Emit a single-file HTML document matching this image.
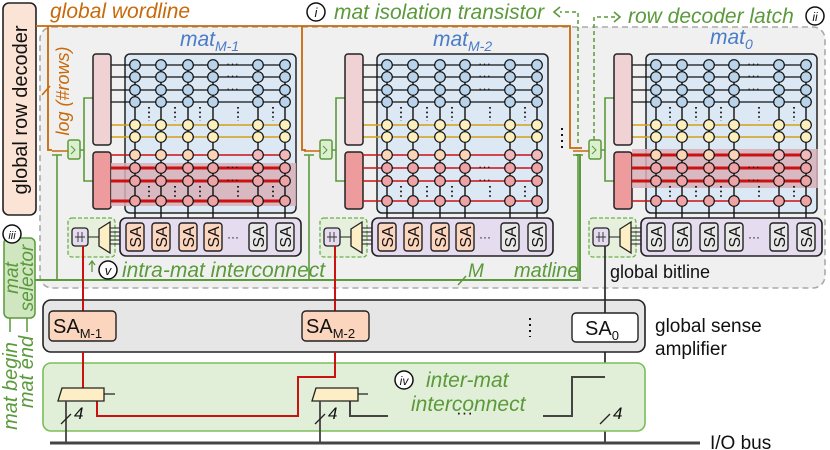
<!DOCTYPE html>
<html><head><meta charset="utf-8"><style>
html,body{margin:0;padding:0;background:#fff;}
svg{display:block;}
text{font-family:"Liberation Sans",sans-serif;}
.it{font-style:italic;}
.g{fill:#5a9a3a;}
</style></head><body>
<svg width="830" height="450" viewBox="0 0 830 450" xmlns="http://www.w3.org/2000/svg">
<defs>
<g id="matA">
  <rect x="125" y="54" width="171" height="159" rx="5" fill="#dce8f4" stroke="#222" stroke-width="1.5"/>
  <path d="M80,150 H84 M93,98 H84 V181 H93" fill="none" stroke="#5a9a3a" stroke-width="1.6"/>
  <rect x="68" y="140" width="12" height="19" rx="2" fill="#dcefd0" stroke="#5a9a3a" stroke-width="1.5"/>
  <path d="M71,146 l4,4 l-4,4" fill="none" stroke="#5a9a3a" stroke-width="1"/>
  <path d="M52,151 H62 M62,151 H68" fill="none" stroke="#c8690a" stroke-width="1.6"/>
  <path d="M52,155 H62 M57,155 V280" fill="none" stroke="#5a9a3a" stroke-width="1.6"/>
  <g stroke="#111" stroke-width="1.3">
    <line x1="111" y1="65" x2="290" y2="65"/><line x1="111" y1="77" x2="290" y2="77"/>
    <line x1="111" y1="90" x2="290" y2="90"/><line x1="111" y1="102" x2="290" y2="102"/>
  </g>
  <g stroke="#d4a017" stroke-width="1.6">
    <line x1="111" y1="125" x2="290" y2="125"/><line x1="111" y1="137" x2="290" y2="137"/>
  </g>
  <rect x="93" y="54" width="18" height="91" rx="3" fill="#f0d2d5" stroke="#222" stroke-width="1.5"/>
  <rect x="93" y="152" width="18" height="57" rx="3" fill="#ee9b9e" stroke="#222" stroke-width="1.5"/>
</g>
<g id="vl" stroke="#111" stroke-width="1.4">
  <line x1="135" y1="60" x2="135" y2="219"/><line x1="161" y1="60" x2="161" y2="219"/>
  <line x1="188" y1="60" x2="188" y2="219"/><line x1="213" y1="60" x2="213" y2="219"/>
  <line x1="258" y1="60" x2="258" y2="219"/><line x1="285" y1="60" x2="285" y2="219"/>
</g>
<g id="col" stroke="#111" stroke-width="1.2">
  <circle cy="65" r="5.3" fill="#b9d3ea"/><circle cy="77" r="5.3" fill="#b9d3ea"/>
  <circle cy="90" r="5.3" fill="#b9d3ea"/><circle cy="102" r="5.3" fill="#b9d3ea"/>
  <circle cy="125" r="5.3" fill="#fdf0bd"/><circle cy="137" r="5.3" fill="#fdf0bd"/>
  <circle cy="168" r="5.3" fill="#eea3a6"/><circle cy="181" r="5.3" fill="#eea3a6"/>
  <circle cy="201" r="5.3" fill="#eea3a6"/>
</g>
<g id="matB">
  <use href="#col" x="135"/><use href="#col" x="161"/><use href="#col" x="188"/><use href="#col" x="213"/>
  <use href="#col" x="258"/><use href="#col" x="285"/>
  <g stroke="#111" stroke-width="1.2">
    <circle cx="135" cy="155" r="5.3" fill="#fbd5b5"/><circle cx="161" cy="155" r="5.3" fill="#fbd5b5"/>
    <circle cx="188" cy="155" r="5.3" fill="#fbd5b5"/><circle cx="213" cy="155" r="5.3" fill="#fbd5b5"/>
    <circle cx="258" cy="155" r="5.3" fill="#f2b8ba"/><circle cx="285" cy="155" r="5.3" fill="#f2b8ba"/>
  </g>
  <g fill="#111">
    <text x="226" y="68" font-size="13">···</text><text x="226" y="80" font-size="13">···</text>
    <text x="226" y="93" font-size="13">···</text><text x="226" y="171" font-size="13">···</text>
    <text x="226" y="184" font-size="13">···</text>
  </g>
  <g stroke="#111" stroke-width="1.8" stroke-dasharray="1.6 3">
    <line x1="149" y1="107" x2="149" y2="121"/><line x1="175" y1="107" x2="175" y2="121"/>
    <line x1="200" y1="107" x2="200" y2="121"/><line x1="238" y1="107" x2="238" y2="121"/>
    <line x1="273" y1="107" x2="273" y2="121"/>
    <line x1="149" y1="186" x2="149" y2="198"/><line x1="175" y1="186" x2="175" y2="198"/>
    <line x1="200" y1="186" x2="200" y2="198"/><line x1="238" y1="186" x2="238" y2="198"/>
    <line x1="273" y1="186" x2="273" y2="198"/>
  </g>
  <rect x="120" y="218" width="181" height="38" rx="6" fill="#e6dcef" stroke="#222" stroke-width="1.6"/>
  <rect x="68" y="218" width="47" height="39" rx="4" fill="#e6f0dd" stroke="#6db04a" stroke-width="1.3" stroke-dasharray="4 2"/>
  <g stroke="#222" stroke-width="1"><line x1="110" y1="228" x2="120" y2="228"/><line x1="110" y1="232" x2="120" y2="232"/><line x1="110" y1="236" x2="120" y2="236"/><line x1="110" y1="240" x2="120" y2="240"/><line x1="110" y1="244" x2="120" y2="244"/><line x1="88" y1="237" x2="99" y2="237"/></g>
  <polygon points="99,229 110,222 110,253 99,246" fill="#fdeec5" stroke="#222" stroke-width="1.3"/>
  <rect x="72" y="228" width="16" height="18" rx="3" fill="#e6dcef" stroke="#222" stroke-width="1.3"/>
  <path d="M75,237 H85 M78,232 V242 M82,232 V242" stroke="#333" stroke-width="0.9"/>
  <text x="227" y="241" font-size="12" fill="#111">···</text>
</g>
<g id="sab" stroke="#222" stroke-width="1.4">
  <rect x="-9" y="223" width="18" height="28" rx="3"/>
</g>
</defs>

<rect x="40" y="27" width="785" height="261" rx="12" fill="#f0f0f0" stroke="#aaa" stroke-width="1.6" stroke-dasharray="6 4"/>

<rect x="3" y="3" width="33" height="212" rx="6" fill="#fbe4d5" stroke="#222" stroke-width="1.6"/>
<text transform="translate(27,110) rotate(-90)" text-anchor="middle" font-size="20" fill="#111">global row decoder</text>

<path d="M36,26 H570 V148 H582 M48,26 V150 H52 M302,26 V150 H306" fill="none" stroke="#c8690a" stroke-width="1.8"/>
<line x1="42" y1="95" x2="50" y2="86" stroke="#c8690a" stroke-width="1.6"/>
<text x="50" y="18" class="it" font-size="21" fill="#c8690a">global wordline</text>
<text transform="translate(69,91) rotate(-90)" text-anchor="middle" class="it" font-size="18" fill="#c8690a">log (#rows)</text>

<use href="#matA"/>
<rect x="111" y="163" width="185" height="43" fill="#d7b0b8" opacity="0.85"/>
<g stroke="#cc1111"><line x1="111" y1="155" x2="290" y2="155" stroke-width="1.4"/><line x1="111" y1="168" x2="290" y2="168" stroke-width="3"/><line x1="111" y1="181" x2="290" y2="181" stroke-width="3"/><line x1="111" y1="201" x2="290" y2="201" stroke-width="3"/></g>
<use href="#vl"/><use href="#matB"/>

<use href="#matA" x="252"/>
<g stroke="#cc1111" stroke-width="1.5"><line x1="363" y1="155" x2="542" y2="155"/><line x1="363" y1="168" x2="542" y2="168"/><line x1="363" y1="181" x2="542" y2="181"/><line x1="363" y1="201" x2="542" y2="201"/></g>
<use href="#vl" x="252"/><use href="#matB" x="252"/>

<use href="#matA" x="521"/>
<rect x="632" y="149" width="186" height="39" fill="#d7b0b8" opacity="0.85"/>
<g stroke="#cc1111"><line x1="632" y1="155" x2="811" y2="155" stroke-width="3"/><line x1="632" y1="168" x2="811" y2="168" stroke-width="3"/><line x1="632" y1="181" x2="811" y2="181" stroke-width="3"/><line x1="632" y1="201" x2="811" y2="201" stroke-width="1.5"/></g>
<use href="#vl" x="521"/><use href="#matB" x="521"/>

<g fill="#fbd5bd"><use href="#sab" x="135"/><use href="#sab" x="161"/><use href="#sab" x="188"/><use href="#sab" x="213"/>
<use href="#sab" x="387"/><use href="#sab" x="413"/><use href="#sab" x="440"/><use href="#sab" x="465"/></g>
<g fill="#e8e8e8"><use href="#sab" x="258"/><use href="#sab" x="285"/><use href="#sab" x="510"/><use href="#sab" x="537"/>
<use href="#sab" x="656"/><use href="#sab" x="682"/><use href="#sab" x="709"/><use href="#sab" x="734"/><use href="#sab" x="779"/><use href="#sab" x="806"/></g>
<g font-size="16" fill="#111" text-anchor="middle">
<text transform="translate(141,237) rotate(-90)">SA</text><text transform="translate(167,237) rotate(-90)">SA</text><text transform="translate(194,237) rotate(-90)">SA</text><text transform="translate(219,237) rotate(-90)">SA</text><text transform="translate(264,237) rotate(-90)">SA</text><text transform="translate(291,237) rotate(-90)">SA</text>
<text transform="translate(393,237) rotate(-90)">SA</text><text transform="translate(419,237) rotate(-90)">SA</text><text transform="translate(446,237) rotate(-90)">SA</text><text transform="translate(471,237) rotate(-90)">SA</text><text transform="translate(516,237) rotate(-90)">SA</text><text transform="translate(543,237) rotate(-90)">SA</text>
<text transform="translate(662,237) rotate(-90)">SA</text><text transform="translate(688,237) rotate(-90)">SA</text><text transform="translate(715,237) rotate(-90)">SA</text><text transform="translate(740,237) rotate(-90)">SA</text><text transform="translate(785,237) rotate(-90)">SA</text><text transform="translate(812,237) rotate(-90)">SA</text>
</g>

<text x="180" y="46" class="it" font-size="21" fill="#4a7cc8">mat<tspan font-size="14" dy="5">M-1</tspan></text>
<text x="433" y="46" class="it" font-size="21" fill="#4a7cc8">mat<tspan font-size="14" dy="5">M-2</tspan></text>
<text x="710" y="44" class="it" font-size="21" fill="#4a7cc8">mat<tspan font-size="14" dy="5">0</tspan></text>

<g stroke="#111" stroke-width="2" stroke-dasharray="2 4"><line x1="562" y1="128" x2="562" y2="148"/></g>

<path d="M36,280 H580 V155 H576" fill="none" stroke="#5a9a3a" stroke-width="2"/>
<line x1="458" y1="285" x2="466" y2="276" stroke="#5a9a3a" stroke-width="1.5"/>
<text x="468" y="277" class="it g" font-size="19">M</text>
<text x="514" y="277" class="it g" font-size="20">matline</text>

<path d="M578,143 V12 H560" fill="none" stroke="#5a9a3a" stroke-width="1.5" stroke-dasharray="4 3"/>
<path d="M560,7 l-6,5 l6,5" fill="none" stroke="#5a9a3a" stroke-width="1.6"/>
<path d="M594,140 V17 H618" fill="none" stroke="#5a9a3a" stroke-width="1.5" stroke-dasharray="4 3"/>
<path d="M614,12 l6,5 l-6,5" fill="none" stroke="#5a9a3a" stroke-width="1.6"/>

<circle cx="316" cy="12" r="9" fill="#fff" stroke="#111" stroke-width="1.5"/>
<text x="316" y="17" text-anchor="middle" class="it" font-size="13" fill="#111">i</text>
<text x="334" y="19" class="it g" font-size="21">mat isolation transistor</text>
<text x="628" y="23" class="it g" font-size="21">row decoder latch</text>
<circle cx="815" cy="16" r="9" fill="#fff" stroke="#111" stroke-width="1.5"/>
<text x="815" y="21" text-anchor="middle" class="it" font-size="12" fill="#111">ii</text>

<path d="M92,272 V262 M89,265 l3,-4 l3,4" fill="none" stroke="#5a9a3a" stroke-width="1.3"/>
<circle cx="108" cy="270" r="9" fill="#fff" stroke="#111" stroke-width="1.5"/>
<text x="108" y="275" text-anchor="middle" class="it" font-size="13" fill="#111">v</text>
<text x="122" y="277" class="it g" font-size="21">intra-mat interconnect</text>
<text x="610" y="278" font-size="18" fill="#111">global bitline</text>

<rect x="4" y="238" width="31" height="80" rx="5" fill="#cfe6c0" stroke="#5a9a3a" stroke-width="1.5"/>
<path d="M35,280 H40" stroke="#5a9a3a" stroke-width="2"/>
<text transform="translate(18,278) rotate(-90)" text-anchor="middle" class="it g" font-size="19">mat</text>
<text transform="translate(33,278) rotate(-90)" text-anchor="middle" class="it g" font-size="19">selector</text>
<circle cx="12" cy="234" r="9" fill="#fff" stroke="#111" stroke-width="1.5"/>
<text x="12" y="239" text-anchor="middle" class="it" font-size="11" fill="#111">iii</text>
<path d="M10,318 V332 M27,318 V332" stroke="#5a9a3a" stroke-width="1.5"/>
<text transform="translate(17,386) rotate(-90)" text-anchor="middle" class="it g" font-size="20">mat begin</text>
<text transform="translate(33,372) rotate(-90)" text-anchor="middle" class="it g" font-size="20">mat end</text>

<line x1="83" y1="246" x2="83" y2="387" stroke="#cc1111" stroke-width="2"/>
<line x1="335" y1="246" x2="335" y2="387" stroke="#cc1111" stroke-width="2"/>
<line x1="605" y1="246" x2="605" y2="443" stroke="#333" stroke-width="1.8"/>

<rect x="43" y="300" width="602" height="52" rx="8" fill="#e6e6e6" stroke="#222" stroke-width="1.6"/>
<line x1="83" y1="300" x2="83" y2="311" stroke="#cc1111" stroke-width="2"/>
<line x1="335" y1="300" x2="335" y2="311" stroke="#cc1111" stroke-width="2"/>
<line x1="605" y1="300" x2="605" y2="313" stroke="#333" stroke-width="1.8"/>
<rect x="49" y="311" width="67" height="30" rx="4" fill="#fbd5bd" stroke="#222" stroke-width="1.4"/>
<text x="53" y="333" font-size="20" fill="#111">SA<tspan font-size="13" dy="5">M-1</tspan></text>
<rect x="302" y="311" width="67" height="30" rx="4" fill="#fbd5bd" stroke="#222" stroke-width="1.4"/>
<text x="306" y="333" font-size="20" fill="#111">SA<tspan font-size="13" dy="5">M-2</tspan></text>
<rect x="572" y="313" width="66" height="29" rx="4" fill="#fff" stroke="#222" stroke-width="1.4"/>
<text x="585" y="335" font-size="20" fill="#111">SA<tspan font-size="13" dy="5">0</tspan></text>
<g stroke="#111" stroke-width="2" stroke-dasharray="2 4"><line x1="530" y1="318" x2="530" y2="337"/></g>
<text x="655" y="332" font-size="19" fill="#111">global sense</text>
<text x="655" y="355" font-size="19" fill="#111">amplifier</text>

<rect x="43" y="363" width="602" height="68" rx="8" fill="#e2efd8" stroke="#7bbd5a" stroke-width="1.6"/>
<line x1="83" y1="352" x2="83" y2="388" stroke="#cc1111" stroke-width="2"/>
<path d="M335,352 V377 H298 V416 H97 V401" fill="none" stroke="#cc1111" stroke-width="2"/>
<path d="M350,401 V416 H388 M543,416 H572 V377 H605" fill="none" stroke="#444" stroke-width="2"/>
<polygon points="62,388 104,388 104,401 58,401" fill="#fdeec5" stroke="#222" stroke-width="1.3"/>
<polygon points="316,388 358,388 358,401 312,401" fill="#fdeec5" stroke="#222" stroke-width="1.3"/>
<path d="M104,394 H115 M358,394 H368" stroke="#222" stroke-width="1.3"/>
<path d="M66,401 V443 M320,401 V443" stroke="#444" stroke-width="1.8"/>
<path d="M61,424 l10,-10 M315,424 l10,-10 M600,424 l10,-10" stroke="#222" stroke-width="1.3"/>
<text x="74" y="419" class="it" font-size="17" fill="#111">4</text>
<text x="328" y="419" class="it" font-size="17" fill="#111">4</text>
<text x="613" y="419" class="it" font-size="17" fill="#111">4</text>
<text x="456" y="418" font-size="17" fill="#111">···</text>
<circle cx="404" cy="380" r="9" fill="#fff" stroke="#111" stroke-width="1.5"/>
<text x="404" y="385" text-anchor="middle" class="it" font-size="12" fill="#111">iv</text>
<text x="426" y="387" class="it g" font-size="21">inter-mat</text>
<text x="411" y="411" class="it g" font-size="21">interconnect</text>

<line x1="50" y1="443" x2="700" y2="443" stroke="#444" stroke-width="3"/>
<text x="710" y="449" font-size="19" fill="#111">I/O bus</text>
</svg>
</body></html>
